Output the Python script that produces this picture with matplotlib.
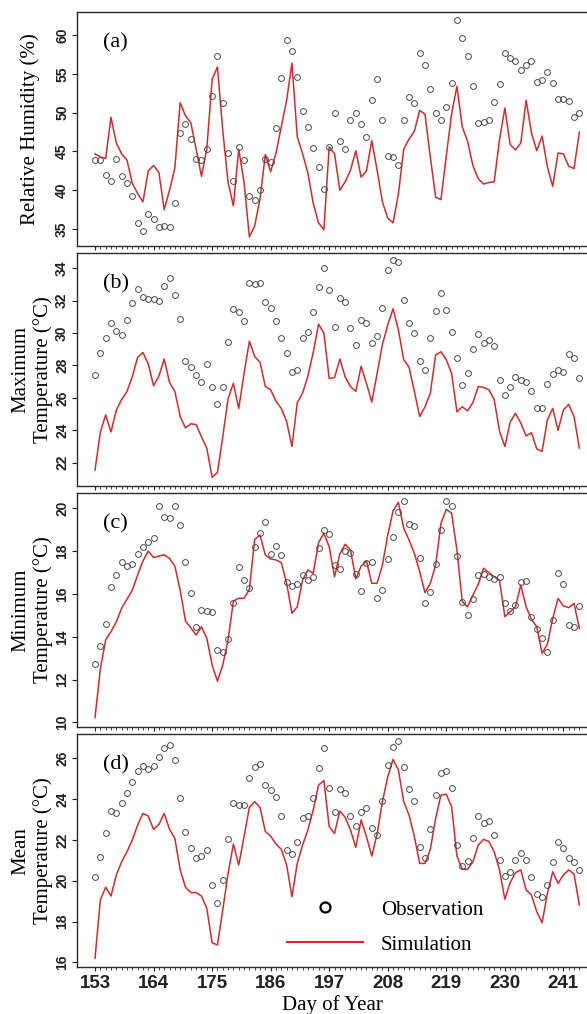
import numpy as np
import matplotlib
matplotlib.use("Agg")
import matplotlib.pyplot as plt
from matplotlib.lines import Line2D

# daily series, day of year 153..244
days = np.arange(153, 245)

rh_obs = [43.9, 43.9, 42.0, 41.25, 44.0, 41.9, 40.9, 39.2, 35.8, 34.8, 36.9,
          36.3, 35.2, 35.4, 35.2, 38.4, 47.4, 48.6, 46.6, 44.0, 43.9, 45.3,
          52.1, 57.3, 51.3, 44.8, 41.2, 45.6, 43.9, 39.2, 38.7, 40.0, 44.0,
          43.6, 48.0, 54.5, 59.4, 57.9, 54.6, 50.2, 48.1, 45.5, 43.0, 40.1,
          45.6, 49.9, 46.4, 45.3, 49.1, 50.0, 48.5, 46.9, 51.7, 54.3, 49.0,
          44.4, 44.3, 43.2, 49.0, 52.0, 51.3, 57.7, 56.1, 53.0, 50.0, 49.0,
          50.8, 53.8, 62.0, 59.6, 57.3, 53.5, 48.7, 48.8, 49.0, 51.4, 53.7,
          57.7, 57.0, 56.7, 55.5, 56.1, 56.7, 54.0, 54.2, 55.2, 53.8, 51.8,
          51.8, 51.5, 49.4, 50.0]
rh_sim = [44.7, 44.3, 44.1, 49.4, 46.1, 44.7, 43.9, 40.9, 39.6, 38.5, 42.5,
          43.2, 42.3, 37.5, 40.0, 42.9, 51.3, 49.6, 48.7, 45.3, 41.8, 45.3,
          54.3, 55.9, 47.7, 41.0, 38.0, 45.3, 41.0, 34.0, 35.4, 38.9, 44.6,
          42.4, 44.8, 48.2, 51.6, 56.4, 46.9, 44.7, 42.2, 38.3, 35.8, 34.9,
          45.6, 44.7, 40.0, 41.1, 42.6, 45.1, 41.7, 42.5, 46.4, 42.6, 38.5,
          36.4, 35.8, 39.5, 45.3, 46.6, 47.6, 50.3, 49.8, 44.3, 39.1, 38.8,
          44.4, 49.9, 53.4, 48.2, 46.3, 43.2, 41.5, 40.8, 41.0, 41.1, 46.5,
          50.6, 45.9, 45.2, 46.1, 51.6, 47.4, 45.1, 47.0, 43.0, 40.5, 44.8,
          44.7, 43.1, 42.8, 47.5]

tmax_obs = [27.4, 28.75, 29.7, 30.6, 30.15, 29.9, 30.8, 31.85, 32.75, 32.25, 32.1,
            32.1, 32.0, 32.9, 33.4, 32.35, 30.85, 28.3, 27.9, 27.4, 27.0, 28.1,
            26.7, 25.6, 26.7, 29.45, 31.5, 31.3, 30.75, 33.1, 33.05, 33.1, 31.9,
            31.55, 30.75, 29.7, 28.75, 27.6, 27.7, 29.7, 30.05, 31.3, 32.85, 34.0,
            32.65, 30.35, 32.15, 31.9, 30.3, 29.25, 30.8, 30.6, 29.4, 29.8, 31.55,
            33.9, 34.5, 34.4, 32.05, 30.6, 30.0, 28.3, 27.7, 29.7, 31.35, 32.5,
            31.4, 30.05, 28.45, 26.8, 27.55, 29.0, 29.95, 29.4, 29.55, 29.2, 27.1,
            26.15, 26.7, 27.3, 27.1, 27.0, 26.4, 25.35, 25.35, 26.85, 27.5, 27.7,
            27.6, 28.7, 28.45, 27.2]
tmax_sim = [21.55, 23.9, 24.95, 23.9, 25.25, 25.9, 26.4, 27.3, 28.5, 28.8, 28.1,
            26.75, 27.35, 28.4, 26.95, 26.4, 24.85, 24.15, 24.4, 24.35, 23.6, 22.9,
            21.1, 21.4, 23.6, 25.95, 26.9, 25.35, 27.5, 29.5, 28.55, 28.2, 26.7,
            26.5, 25.8, 25.35, 24.55, 23.0, 25.7, 26.3, 27.35, 28.8, 30.55, 30.0,
            27.2, 27.25, 28.4, 27.3, 26.7, 26.4, 27.95, 26.9, 25.75, 27.5, 29.3,
            30.5, 31.5, 30.2, 28.35, 27.9, 26.4, 24.85, 25.45, 26.3, 28.65, 28.85,
            28.35, 27.5, 25.15, 25.45, 25.2, 25.7, 26.7, 26.65, 26.5, 25.9, 23.95,
            23.0, 24.5, 25.05, 24.45, 23.65, 23.85, 22.85, 22.7, 24.65, 25.35, 24.0,
            25.25, 25.6, 24.85, 22.9]

tmin_obs = [12.73, 13.58, 14.6, 16.32, 16.88, 17.49, 17.3, 17.38, 17.88, 18.2, 18.41,
            18.63, 20.12, 19.58, 19.55, 20.12, 19.2, 17.49, 16.03, 14.47, 15.25, 15.2,
            15.14, 13.38, 13.27, 13.88, 15.6, 17.27, 16.65, 16.3, 18.2, 18.83, 19.36,
            17.87, 18.22, 17.82, 16.54, 16.37, 16.46, 16.87, 16.65, 16.8, 18.16, 18.97,
            18.8, 17.35, 17.15, 18.02, 17.93, 16.93, 16.12, 17.43, 17.48, 15.81, 16.18,
            17.63, 18.64, 19.81, 20.36, 19.28, 19.17, 17.66, 15.58, 16.07, 17.38, 19.0,
            20.33, 20.11, 17.77, 15.61, 15.03, 15.78, 16.9, 16.92, 16.78, 16.71, 16.79,
            15.56, 15.22, 15.5, 16.54, 16.6, 14.92, 14.38, 13.96, 13.29, 14.78, 16.99,
            16.45, 14.56, 14.44, 15.45]
tmin_sim = [10.23, 12.5, 13.85, 14.24, 14.7, 15.33, 15.75, 16.18, 16.88, 17.54, 18.0,
            17.7, 17.77, 17.83, 17.66, 17.3, 16.18, 14.73, 14.42, 14.08, 14.47, 13.93,
            12.68, 11.93, 12.68, 13.85, 15.67, 15.8, 15.8, 16.2, 18.55, 18.75, 17.82,
            17.63, 17.59, 17.46, 16.5, 15.1, 15.4, 16.65, 17.12, 16.96, 18.4, 18.83,
            18.2, 16.8, 17.87, 18.32, 18.05, 16.7, 17.3, 17.54, 16.5, 16.5, 17.35,
            18.75, 19.88, 20.28, 19.07, 18.52, 17.9, 17.04, 16.06, 16.5, 17.35, 19.3,
            19.95, 19.77, 18.05, 15.64, 15.4, 15.95, 16.45, 17.2, 17.0, 16.8, 16.62,
            14.94, 15.17, 15.4, 16.42, 15.4, 14.81, 14.47, 13.22, 13.66, 14.86, 15.79,
            15.44, 15.36, 15.56, 14.39]

tmean_obs = [20.17, 21.15, 22.36, 23.43, 23.34, 23.83, 24.32, 24.84, 25.4, 25.62, 25.49,
             25.62, 26.08, 26.49, 26.64, 25.93, 24.04, 22.41, 21.59, 21.13, 21.21, 21.51,
             19.79, 18.89, 20.05, 22.05, 23.83, 23.7, 23.7, 25.02, 25.58, 25.74, 24.68,
             24.43, 24.09, 23.16, 21.51, 21.33, 21.88, 23.06, 23.16, 24.07, 25.51, 26.51,
             24.53, 23.39, 24.48, 24.28, 23.19, 22.68, 23.35, 23.58, 22.58, 22.23, 23.91,
             25.69, 26.54, 26.83, 25.59, 24.51, 23.91, 21.67, 21.13, 22.55, 24.19, 25.3,
             25.36, 24.55, 21.75, 20.72, 20.97, 22.11, 23.19, 22.81, 22.93, 22.24, 21.02,
             20.23, 20.44, 21.02, 21.36, 21.03, 20.18, 19.33, 19.19, 19.77, 20.92, 21.92,
             21.59, 21.13, 20.93, 20.53]
tmean_sim = [16.2, 19.06, 19.68, 19.25, 20.28, 20.93, 21.42, 22.0, 22.73, 23.3, 23.17,
             22.52, 22.76, 23.3, 22.52, 22.08, 20.53, 19.68, 19.42, 19.42, 19.25, 18.65,
             16.96, 16.85, 18.57, 20.36, 21.8, 20.77, 22.16, 23.6, 23.88, 23.6, 22.41,
             22.19, 21.8, 21.54, 20.77, 19.22, 20.85, 21.75, 22.49, 23.47, 24.69, 24.91,
             22.65, 22.32, 23.42, 23.11, 22.49, 21.64, 22.98, 22.16, 21.21, 22.29, 23.88,
             25.1, 25.95, 25.43, 23.88, 23.22, 22.16, 20.85, 20.85, 21.54, 23.06, 24.2,
             24.24, 23.63, 21.21, 20.56, 20.56, 20.93, 21.75, 22.03, 21.92, 21.42, 20.53,
             19.09, 19.91, 20.4, 20.53, 19.55, 19.3, 18.48, 17.94, 19.38, 20.44, 19.87,
             20.28, 20.53, 20.33, 18.81]

panel_tags = ["(a)", "(b)", "(c)", "(d)"]
ylabels = ["Relative Humidity (%)", "Maximum\nTemperature (\u00b0C)",
           "Minimum\nTemperature (\u00b0C)", "Mean\nTemperature (\u00b0C)"]
yticks = [[35, 40, 45, 50, 55, 60], [22, 24, 26, 28, 30, 32, 34],
          [10, 12, 14, 16, 18, 20], [16, 18, 20, 22, 24, 26]]
ylims = [(32.85, 62.95), (20.58, 34.96), (9.8, 20.7), (15.77, 27.18)]
xlabel_days = [153, 164, 175, 186, 197, 208, 219, 230, 241]

obs_series = [rh_obs, tmax_obs, tmin_obs, tmean_obs]
sim_series = [rh_sim, tmax_sim, tmin_sim, tmean_sim]
for s in obs_series + sim_series:
    assert len(s) == len(days)

SERIF = ["Liberation Serif", "DejaVu Serif"]
NUMFONT = ["Liberation Sans", "DejaVu Sans"]
RED = "#d42a2a"

W, H = 587, 1014
fig = plt.figure(figsize=(W / 100, H / 100), dpi=100)

# panel frames in pixels: (top, bottom)
frames = [(12.3, 245.7), (252.7, 485.7), (493.3, 726.7), (734.3, 967.0)]
left_px, right_px = 77.3, 598.5

axes = []
for i, (top, bot) in enumerate(frames):
    ax = fig.add_axes([left_px / W, 1 - bot / H, (right_px - left_px) / W, (bot - top) / H])
    axes.append(ax)
    ax.plot(days, sim_series[i], color=RED, lw=1.1, zorder=2)
    ax.plot(days, obs_series[i], ls="none", marker="o", ms=4.2, mfc="none",
            mec="#4a4a4a", mew=0.7, zorder=3)
    ax.set_xlim(149.67, 247.6)
    ax.set_ylim(*ylims[i])
    ax.set_yticks(yticks[i])
    ax.set_xticks(xlabel_days)
    ax.set_xticks(days, minor=True)
    for sp in ax.spines.values():
        sp.set_color("#2a2a2a")
        sp.set_linewidth(1.0)
    ax.tick_params(axis="y", direction="out", length=3.4, width=0.8, pad=2.5,
                   labelrotation=90, labelsize=10, colors="#222222")
    ax.tick_params(axis="x", which="major", direction="out", length=3.0, width=0.8,
                   colors="#222222")
    ax.tick_params(axis="x", which="minor", direction="out", length=2.0, width=0.6,
                   colors="#222222")
    for lab in ax.get_yticklabels():
        lab.set_fontfamily(NUMFONT)
        lab.set_fontweight("bold")
        lab.set_verticalalignment("center")
    if i < 3:
        ax.tick_params(axis="x", labelbottom=False)
    else:
        ax.tick_params(axis="x", labelsize=13.5, pad=3)
        for lab in ax.get_xticklabels():
            lab.set_fontfamily(NUMFONT)
            lab.set_fontweight("bold")
    ax.text(0.05, 0.868, panel_tags[i], transform=ax.transAxes, fontsize=16,
            family=SERIF, va="center", ha="left")
    yc = 1 - (top + bot) / 2 / H
    fig.text(32 / W if i else 30 / W, yc, ylabels[i], rotation=90, ha="center",
             va="center", fontsize=15, family=SERIF, linespacing=1.2,
             multialignment="center")

fig.text(332 / W, 1 - 1005 / H, "Day of Year", ha="center", va="center",
         fontsize=15, family=SERIF)

handles = [Line2D([], [], ls="none", marker="o", ms=7.2, mfc="none", mec="black", mew=1.6),
           Line2D([], [], color=RED, lw=1.5)]
axes[3].legend(handles, ["Observation", "Simulation"], loc="upper left",
               bbox_to_anchor=(0.382, 0.333), frameon=False, borderpad=0,
               handlelength=3.65, handletextpad=0.87, labelspacing=0.75,
               prop={"family": SERIF, "size": 15})

fig.savefig("out.png", dpi=100)
